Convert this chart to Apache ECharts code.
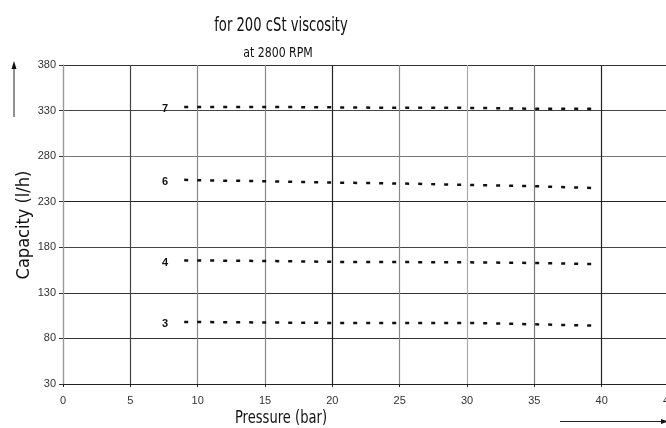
<!DOCTYPE html>
<html>
<head>
<meta charset="utf-8">
<script src="https://cdn.jsdelivr.net/npm/echarts@6/dist/echarts.min.js"></script>
<style>
  html, body { margin: 0; padding: 0; background: #fff; }
  #chart { width: 666px; height: 428px; }
</style>
</head>
<body>
<div id="chart"></div>
<script>
// Pump capacity vs discharge pressure, one curve per pump size
const pressure = [9, 10, 15, 20, 25, 30, 35, 39.5];
const size7 = [334, 334, 334, 333.5, 333, 333, 332, 332];
const size6 = [254, 253.5, 252.5, 251, 250, 248.5, 247, 245];
const size4 = [165.5, 165.5, 165, 164, 163.8, 163.5, 162.8, 161.5];
const size3 = [98, 98, 97.5, 97, 97, 97, 95.5, 94];
const sizeNames = ['7', '6', '4', '3'];
const sizeValues = [size7, size6, size4, size3];

const titleText = 'for 200 cSt viscosity';
const subtitleText = 'at 2800 RPM';
const xName = 'Pressure (bar)';
const yName = 'Capacity (l/h)';

const narrow = "'DejaVu Sans Condensed', 'Open Sans', sans-serif";
const plain = "'Liberation Sans', Arial, sans-serif";

const series = sizeNames.map((name, i) => ({
  name: name,
  type: 'line',
  symbol: 'circle',
  symbolSize: 0,
  showSymbol: true,
  itemStyle: { color: '#111' },
  lineStyle: { color: '#111', width: 2.5, type: [4, 9] },
  data: pressure.map((p, j) => {
    const item = { value: [p, sizeValues[i][j]] };
    if (j === 0) {
      item.label = {
        show: true, position: 'left', distance: 16, offset: [0, 2],
        formatter: name, color: '#111',
        fontFamily: plain, fontWeight: 'bold', fontSize: 11
      };
    }
    return item;
  }),
  silent: true
}));

const chart = echarts.init(document.getElementById('chart'), null, { renderer: 'canvas' });
chart.setOption({
  animation: false,
  backgroundColor: '#fff',
  grid: { left: 63, top: 65, width: 606, height: 319, outerBoundsMode: 'none', containLabel: false },
  xAxis: {
    type: 'value', min: 0, max: 45, interval: 5,
    axisLine: { show: true, lineStyle: { color: '#222', width: 1 } },
    axisTick: { show: true, length: 3, lineStyle: { color: '#222' } },
    axisLabel: { margin: 11, fontFamily: plain, fontSize: 11, color: '#333' },
    splitLine: {
      show: true,
      lineStyle: { width: 1.2, color: ['#999', '#444', '#888', '#888', '#222', '#888', '#aaa', '#777', '#222', '#333'] }
    }
  },
  yAxis: {
    type: 'value', min: 30, max: 380, interval: 50,
    axisLine: { show: true, lineStyle: { color: '#999', width: 1.2 } },
    axisTick: { show: true, length: 4, lineStyle: { color: '#333' } },
    axisLabel: { margin: 7, fontFamily: plain, fontSize: 11, color: '#333' },
    splitLine: {
      show: true,
      lineStyle: { width: 1.2, color: ['#222', '#333', '#333', '#444', '#222', '#777', '#444', '#333'] }
    }
  },
  graphic: [
    // condensed headings and axis captions
    { type: 'text', x: 281, y: 17, scaleX: 0.77,
      style: { text: titleText, fontFamily: narrow, fontSize: 19, fill: '#111', align: 'center' } },
    { type: 'text', x: 278, y: 46, scaleX: 0.87,
      style: { text: subtitleText, fontFamily: narrow, fontSize: 14, fill: '#111', align: 'center' } },
    { type: 'text', x: 281, y: 409, scaleX: 0.81,
      style: { text: xName, fontFamily: narrow, fontSize: 18, fill: '#111', align: 'center' } },
    { type: 'text', x: 24, y: 225, rotation: Math.PI / 2,
      style: { text: yName, fontFamily: narrow, fontSize: 18, fill: '#111', align: 'center', verticalAlign: 'middle' } },
    // direction arrows beside the axis names
    { type: 'line', shape: { x1: 14, y1: 117, x2: 14, y2: 68 }, style: { stroke: '#222', lineWidth: 1 } },
    { type: 'polygon', shape: { points: [[14, 61], [11.5, 69], [16.5, 69]] }, style: { fill: '#111' } },
    { type: 'line', shape: { x1: 560, y1: 421.5, x2: 662, y2: 421.5 }, style: { stroke: '#222', lineWidth: 1 } },
    { type: 'polygon', shape: { points: [[668, 421.5], [661, 419], [661, 424]] }, style: { fill: '#111' } }
  ],
  series: series
});
</script>
</body>
</html>
